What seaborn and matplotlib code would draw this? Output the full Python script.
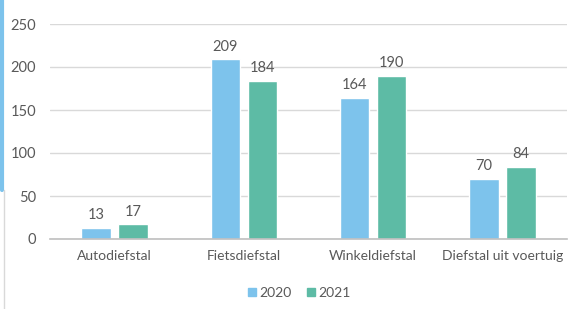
import matplotlib
matplotlib.use("Agg")
import matplotlib.pyplot as plt
import seaborn as sns
import pandas as pd
from matplotlib.lines import Line2D

categories = ["Autodiefstal", "Fietsdiefstal", "Winkeldiefstal", "Diefstal uit voertuig"]
years = ["2020", "2021"]
values_2020 = [13, 209, 164, 70]
values_2021 = [17, 184, 190, 84]
yticks = [0, 50, 100, 150, 200, 250]

df = pd.DataFrame({
    "cat": categories * 2,
    "year": [years[0]] * 4 + [years[1]] * 4,
    "val": values_2020 + values_2021,
})

sns.set_theme(style="white")
plt.rcParams["font.family"] = ["Lato", "DejaVu Sans"]
txt = "#595959"

fig = plt.figure(figsize=(5.77, 3.09), dpi=100)
ax = fig.add_axes([50/577, 1-239/309, 517/577, 215/309])
palette = {"2020": "#7DC3EC", "2021": "#5DBBA5"}
sns.barplot(data=df, x="cat", y="val", hue="year", palette=palette, width=0.57,
            gap=0.2, ax=ax, saturation=1, legend=False)

ax.set_ylim(0, 250)
ax.set_yticks(yticks)
ax.yaxis.grid(True, color="#D9D9D9", linewidth=1)
ax.set_axisbelow(True)
for s in ["top", "right", "left"]:
    ax.spines[s].set_visible(False)
ax.spines["bottom"].set_color("#BFBFBF")
ax.spines["bottom"].set_linewidth(1.2)
ax.tick_params(axis="y", length=0, labelsize=10.5, colors=txt, pad=10)
ax.tick_params(axis="x", length=0, labelsize=10, colors=txt, pad=8)
ax.set_xlabel("")
ax.set_ylabel("")

for cont in ax.containers:
    ax.bar_label(cont, fmt="%d", padding=4, fontsize=10.5, color=txt)

handles = [Line2D([0], [0], marker="s", linestyle="", markersize=6,
                  markerfacecolor=palette[y], markeredgecolor=palette[y]) for y in years]
fig.legend(handles, years, loc="center", bbox_to_anchor=(296/577, 1-293/309), ncol=2,
           frameon=False, fontsize=10, labelcolor=txt, handletextpad=-0.2,
           columnspacing=0.6, handlelength=1.5)

fig.add_artist(Line2D([1.5/577, 1.5/577], [1, 1-190/309], color="#7DC3EC", linewidth=3,
                      transform=fig.transFigure))
fig.add_artist(Line2D([3.5/577, 3.5/577], [1-190/309, 0], color="#D9D9D9", linewidth=1,
                      transform=fig.transFigure))

fig.savefig("out.png", dpi=100)
